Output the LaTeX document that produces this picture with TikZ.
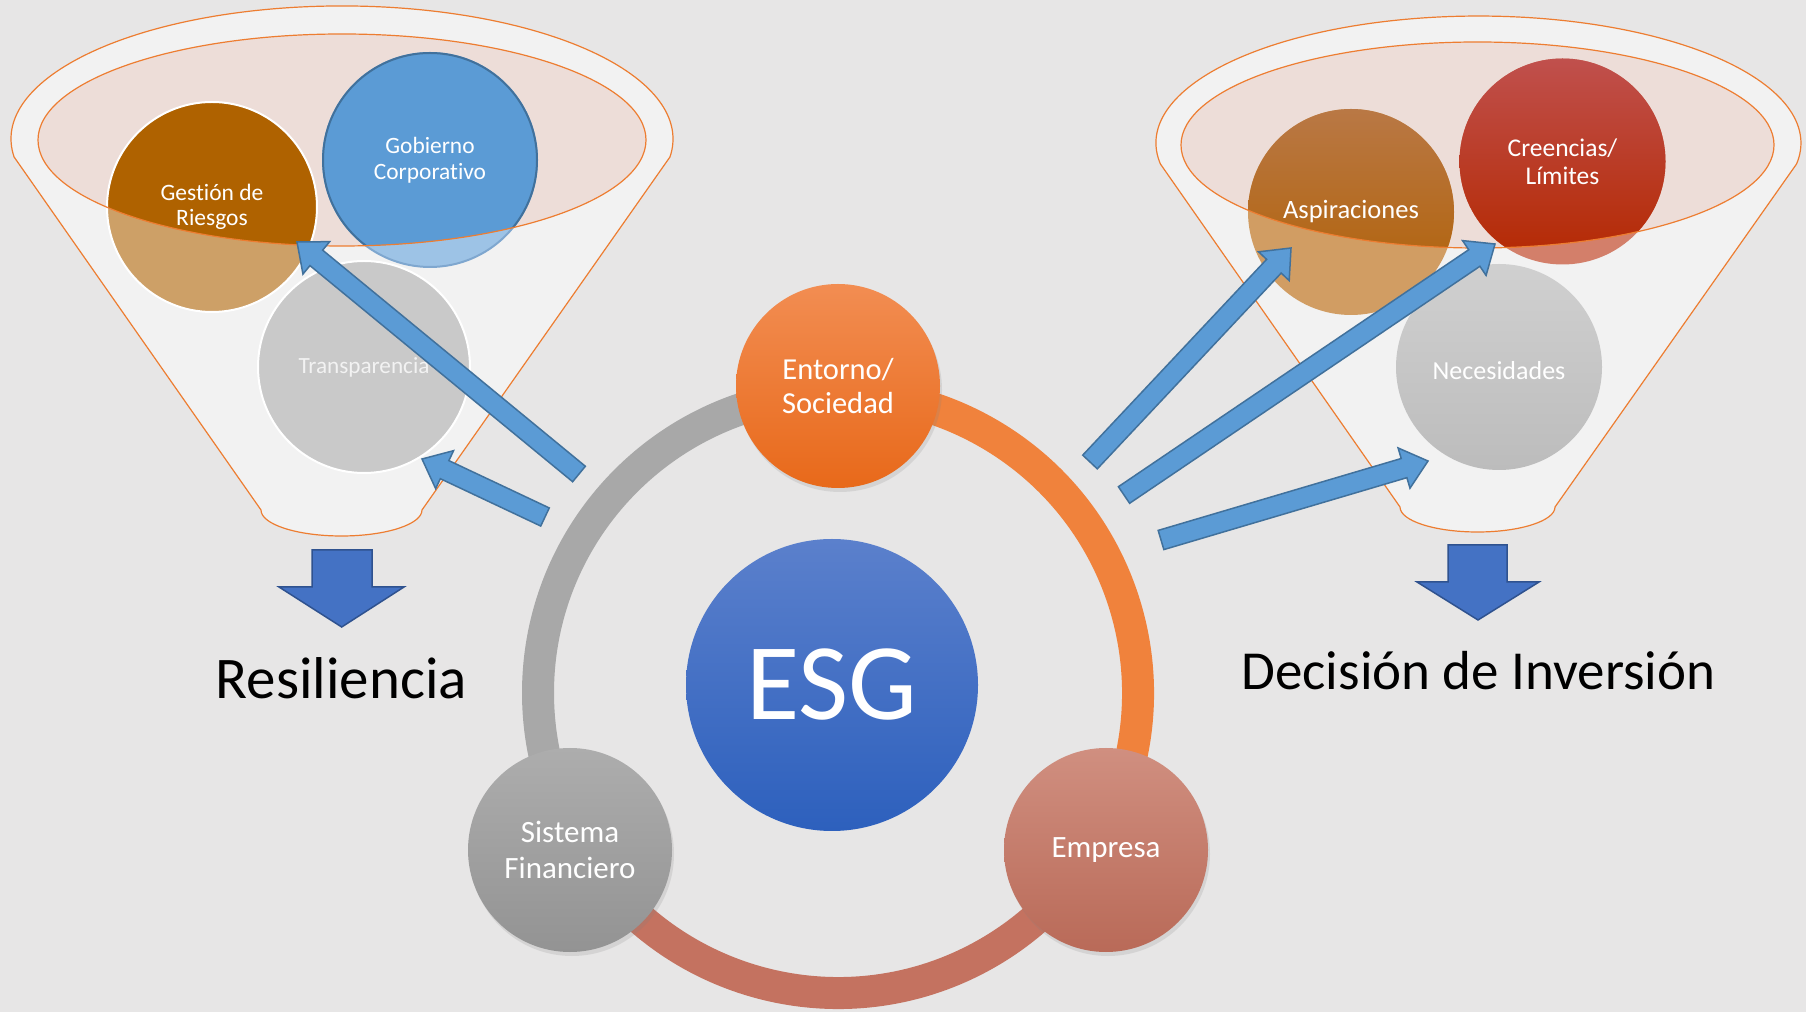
\documentclass[tikz,border=0pt]{standalone}
\usepackage{fontspec}
\setmainfont{Carlito}[Ligatures=NoCommon]
\usetikzlibrary{calc,shadows}
\definecolor{bg}{HTML}{E7E6E6}
\definecolor{funnelfill}{HTML}{F2F2F2}
\definecolor{funnelline}{HTML}{ED7D31}
\definecolor{pinkfill}{HTML}{EDDDD8}
\definecolor{riesgo}{HTML}{AF6200}
\definecolor{riesgoL}{HTML}{CDA067}
\definecolor{gob}{HTML}{5B9BD5}
\definecolor{gobL}{HTML}{9DC3E6}
\definecolor{gobedge}{HTML}{41719C}
\definecolor{gobedgeL}{HTML}{7FA7CF}
\definecolor{transp}{HTML}{C9C9C9}
\definecolor{aspT}{HTML}{B97845}
\definecolor{aspB}{HTML}{B05F00}
\definecolor{aspL}{HTML}{D19D63}
\definecolor{creT}{HTML}{C0504D}
\definecolor{creB}{HTML}{B42800}
\definecolor{creL}{HTML}{D37F6A}
\definecolor{necT}{HTML}{D0D0D0}
\definecolor{necB}{HTML}{BCBCBC}
\definecolor{ringgray}{HTML}{A8A8A8}
\definecolor{ringorange}{HTML}{F0823C}
\definecolor{ringsalmon}{HTML}{C47260}
\definecolor{entT}{HTML}{F28D52}
\definecolor{entB}{HTML}{E8691A}
\definecolor{sisT}{HTML}{ADADAD}
\definecolor{sisB}{HTML}{939393}
\definecolor{empT}{HTML}{D08F80}
\definecolor{empB}{HTML}{B96A58}
\definecolor{esgT}{HTML}{5B80CC}
\definecolor{esgB}{HTML}{2D60BD}
\definecolor{arrowblue}{HTML}{5B9BD5}
\definecolor{arrowedge}{HTML}{41719C}
\definecolor{downblue}{HTML}{4472C4}
\definecolor{downedge}{HTML}{2F528F}
\newcommand\myfs[2]{\fontsize{#1}{#2}\selectfont}
\tikzset{
  funnel/.style={fill=funnelfill, draw=funnelline, line width=1.2pt},
  rim/.style={draw=funnelline, line width=1.2pt},
  lbl/.style={circle, inner sep=0pt, text=white, align=center},
  hub/.style={circle, inner sep=0pt, text=white, align=center,
    drop shadow={opacity=0.18, shadow xshift=2pt, shadow yshift=-4pt}},
  bluearrow/.style={fill=arrowblue, draw=arrowedge, line width=1.5pt, line join=miter},
  downarrow/.style={fill=downblue, draw=downedge, line width=1.5pt, line join=miter},
  ringseg/.style={line width=32pt},
  bigtext/.style={text=black, anchor=base, inner sep=0pt}
}
\newcommand\blockarrow[2]{%
  \draw[bluearrow]
    ($(#1)!10pt!-90:(#2)$) --
    ($(#2)!25pt!(#1)!10pt!90:(#1)$) --
    ($(#2)!25pt!(#1)!21pt!90:(#1)$) --
    (#2) --
    ($(#2)!25pt!(#1)!21pt!-90:(#1)$) --
    ($(#2)!25pt!(#1)!10pt!-90:(#1)$) --
    ($(#1)!10pt!90:(#2)$) -- cycle;}
\begin{document}
\begin{tikzpicture}[x=1pt,y=1pt]
\useasboundingbox (0,0) rectangle (1806,1012);
\fill[bg] (0,0) rectangle (1806,1012);

% ---------- funnels ----------
\draw[funnel] (14.1,855) arc[start angle=187.8,end angle=-7.8,x radius=331pt,y radius=133pt]
  -- (422,502) arc[start angle=0,end angle=-180,x radius=80.5pt,y radius=26pt] -- cycle;
\fill[pinkfill] (342,872) ellipse [x radius=304pt, y radius=106pt];

\draw[funnel] (1160.4,848) arc[start angle=189.5,end angle=-9.5,x radius=322.5pt,y radius=127pt]
  -- (1555,505) arc[start angle=0,end angle=-180,x radius=77.5pt,y radius=25pt] -- cycle;
\fill[pinkfill] (1477.5,867) ellipse [x radius=296.5pt, y radius=103pt];

% ---------- funnel circles ----------
\fill[riesgoL] (212,805) circle (105pt);
\fill[gobL] (430,852) circle (107pt);
\fill[aspL] (1351,800) circle (103pt);
\fill[creL] (1562.5,850.5) circle (103pt);
\draw[gobedgeL, line width=2pt] (430,852) circle (107pt);
\begin{scope}
  \clip (342,872) ellipse [x radius=304pt, y radius=106pt];
  \fill[riesgo] (212,805) circle (105pt);
  \fill[gob] (430,852) circle (107pt);
  \draw[gobedge, line width=2pt] (430,852) circle (107pt);
\end{scope}
\begin{scope}
  \clip (1477.5,867) ellipse [x radius=296.5pt, y radius=103pt];
  \shade[top color=aspT, bottom color=aspB] (1351,800) circle (103pt);
  \shade[top color=creT, bottom color=creB] (1562.5,850.5) circle (103pt);
\end{scope}
\draw[white, line width=2pt] (212,805) circle (105pt);
\filldraw[fill=transp, draw=white, line width=2pt] (364,645) circle (106pt);
\shade[top color=necT, bottom color=necB] (1499,645) circle (103pt);

\draw[rim] (342,872) ellipse [x radius=304pt, y radius=106pt];
\draw[rim] (1477.5,867) ellipse [x radius=296.5pt, y radius=103pt];

\node[lbl, minimum size=210pt, font=\myfs{23.5}{25.5}] (gestion) at (212,805) {Gestión de\\Riesgos};
\node[lbl, minimum size=214pt, font=\myfs{23.4}{26}] (gobierno) at (430,852) {Gobierno\\Corporativo};
\node[lbl, minimum size=212pt, font=\myfs{23.2}{26}, text=funnelfill] (transparencia) at (364,645) {Transparencia};
\node[lbl, minimum size=206pt, font=\myfs{26.5}{30}] (aspiraciones) at (1351,800) {Aspiraciones};
\node[lbl, minimum size=206pt, font=\myfs{25.5}{28.3}] (creencias) at (1562.5,850.5) {Creencias/\\Límites};
\node[lbl, minimum size=206pt, font=\myfs{26}{30}] (necesidades) at (1499,641) {Necesidades};

% ---------- ring ----------
\draw[ringseg, ringgray] (838,319) ++(90:300pt) arc[start angle=90,end angle=210,radius=300pt];
\draw[ringseg, ringorange] (838,319) ++(-30:300pt) arc[start angle=-30,end angle=90,radius=300pt];
\draw[ringseg, ringsalmon] (838,319) ++(210:300pt) arc[start angle=210,end angle=330,radius=300pt];

\node[hub, minimum size=204pt, top color=entT, bottom color=entB, font=\myfs{30.5}{34.3}] (entorno) at (838,626) {Entorno/\\Sociedad};
\node[hub, minimum size=204pt, top color=sisT, bottom color=sisB, font=\myfs{31}{35.3}] (sistema) at (570,162) {Sistema\\Financiero};
\node[hub, minimum size=204pt, top color=empT, bottom color=empB, font=\myfs{31}{35}] (empresa) at (1106,162) {Empresa};
\node[circle, inner sep=0pt, minimum size=292pt, top color=esgT, bottom color=esgB, text=white, font=\myfs{109}{110}] (esg) at (832,327) {ESG};

% ---------- blue arrows ----------
\coordinate (t1) at (579,538);  \coordinate (h1) at (297,770);
\coordinate (t2) at (545,495);  \coordinate (h2) at (422,553);
\coordinate (t3) at (1090,550); \coordinate (h3) at (1291,764);
\coordinate (t4) at (1124,517); \coordinate (h4) at (1495,768);
\coordinate (t5) at (1161,472); \coordinate (h5) at (1428,551);
\blockarrow{t1}{h1}
\blockarrow{t2}{h2}
\blockarrow{t3}{h3}
\blockarrow{t4}{h4}
\blockarrow{t5}{h5}

% ---------- down arrows ----------
\draw[downarrow] (312,462) -- (372,462) -- (372,425) -- (404,425) -- (341.7,385) -- (279,425) -- (312,425) -- cycle;
\draw[downarrow] (1448,467) -- (1507,467) -- (1507,430) -- (1539,430) -- (1478,392) -- (1417,430) -- (1448,430) -- cycle;

\node[bigtext, font=\myfs{59}{70}] (resiliencia) at (341.5,313) {Resiliencia};
\node[bigtext, font=\myfs{55}{66}] (decision) at (1478.5,322) {Decisión de Inversión};
\end{tikzpicture}
\end{document}
